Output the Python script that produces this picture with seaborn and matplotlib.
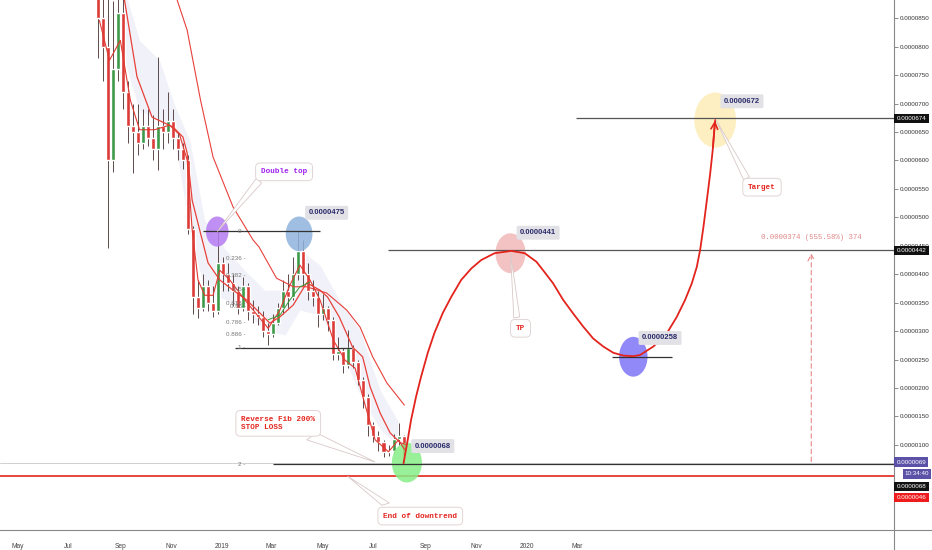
import matplotlib
matplotlib.use("Agg")
import matplotlib.pyplot as plt
import matplotlib.dates as mdates
import matplotlib.transforms as mtransforms
from matplotlib.patches import Ellipse, Polygon
import pandas as pd
import seaborn as sns

# all prices in units of 0.0000001 (475 -> 0.0000475)
candle_first = "2018-08-05"
candle_step = "6D"
first_open = 900
closes = [850, 800, 600, 760, 860, 720, 660, 650, 630, 660, 640, 620, 660, 650, 670, 640,
          620, 600, 480, 360, 340, 380, 350, 335, 420, 400, 385, 370, 340, 380, 335, 330,
          325, 300, 295, 315, 340, 370, 360, 400, 440, 400, 370, 360, 330, 340, 320, 260,
          265, 240, 270, 245, 215, 185, 135, 115, 105, 88, 90, 110, 115, 80]
highs = [950, 920, 900, 880, 960, 900, 740, 700, 700, 690, 690, 680, 782, 690, 720, 690,
         650, 630, 610, 485, 390, 400, 390, 380, 481, 430, 420, 400, 380, 395, 385, 355,
         345, 335, 315, 330, 350, 390, 400, 430, 476, 460, 420, 390, 370, 365, 345, 325,
         290, 270, 302, 275, 250, 220, 190, 140, 125, 108, 100, 120, 138, 118]
lows = [780, 740, 446, 580, 740, 690, 630, 578, 610, 620, 625, 600, 583, 620, 630, 620,
        600, 585, 470, 330, 323, 335, 335, 325, 330, 370, 370, 345, 330, 335, 320, 315,
        310, 290, 276, 290, 310, 330, 340, 355, 390, 380, 355, 345, 307, 320, 300, 250,
        250, 226, 235, 235, 205, 165, 115, 105, 90, 78, 80, 85, 100, 68]

ma_long_dates = ["2018-11-02", "2018-11-08", "2018-11-20", "2018-12-06", "2018-12-21", "2019-01-14",
                 "2019-02-07", "2019-02-14", "2019-03-07", "2019-03-27", "2019-04-12", "2019-05-06",
                 "2019-05-30", "2019-06-15", "2019-06-30", "2019-07-17", "2019-08-07"]
ma_long = [930, 882, 829, 706, 606, 518, 460, 448, 393, 378, 378, 367, 337, 307, 255, 209, 170]

ma_mid_dates = ["2018-09-06", "2018-09-21", "2018-10-09", "2018-11-03", "2018-11-15", "2018-11-20",
                "2018-11-26", "2018-12-06", "2018-12-15", "2018-12-29", "2019-01-14", "2019-01-30",
                "2019-02-15", "2019-02-27", "2019-03-11", "2019-03-27", "2019-04-12", "2019-04-28",
                "2019-05-07", "2019-05-21", "2019-06-06", "2019-06-18", "2019-06-27", "2019-07-09",
                "2019-07-21", "2019-08-02", "2019-08-08"]
ma_mid = [882, 747, 676, 659, 641, 613, 530, 472, 420, 390, 372, 355, 332, 314, 325, 346, 385,
          372, 360, 325, 272, 255, 202, 156, 121, 104, 101]

ma_fast_dates = ["2018-08-07", "2018-08-19", "2018-09-01", "2018-09-13", "2018-09-24", "2018-10-12",
                 "2018-10-30", "2018-11-11", "2018-11-20", "2018-11-26", "2018-12-03", "2018-12-11",
                 "2018-12-21", "2018-12-29", "2019-01-10", "2019-01-28", "2019-02-12", "2019-02-25",
                 "2019-03-11", "2019-03-23", "2019-04-04", "2019-04-16", "2019-04-28", "2019-05-14",
                 "2019-05-28", "2019-06-09", "2019-06-21", "2019-07-03", "2019-07-19", "2019-07-31",
                 "2019-08-07"]
ma_fast = [846, 776, 811, 706, 654, 654, 662, 645, 601, 478, 390, 363, 363, 407, 390, 355, 328,
           305, 337, 381, 416, 390, 355, 284, 249, 235, 170, 109, 88, 109, 92]

ma_green_dates = ["2019-02-25", "2019-03-11", "2019-03-23", "2019-04-04", "2019-04-16"]
ma_green = [320, 328, 355, 378, 386]

cloud_dates = ["2018-09-06", "2018-09-24", "2018-10-18", "2018-11-05", "2018-11-23", "2018-12-11",
               "2019-01-05", "2019-01-28", "2019-02-21", "2019-03-17", "2019-04-04", "2019-04-28",
               "2019-05-21", "2019-06-15", "2019-07-09", "2019-07-30"]
cloud_top = [900, 811, 776, 697, 636, 495, 443, 407, 372, 372, 443, 416, 355, 302, 196, 143]
cloud_bot = [776, 688, 671, 636, 477, 372, 355, 337, 302, 293, 337, 328, 276, 188, 127, 99]

proj_dates = ["2019-08-06", "2019-08-11", "2019-08-15", "2019-08-21", "2019-08-27", "2019-09-04",
              "2019-09-12", "2019-09-22", "2019-10-02", "2019-10-14", "2019-10-26", "2019-11-07",
              "2019-11-23", "2019-12-13", "2019-12-29", "2020-01-12", "2020-01-20", "2020-02-01",
              "2020-02-13", "2020-02-25", "2020-03-08", "2020-03-20", "2020-04-01", "2020-04-13",
              "2020-04-25", "2020-05-07", "2020-05-15", "2020-05-31", "2020-06-16", "2020-06-28",
              "2020-07-08", "2020-07-16", "2020-07-22", "2020-07-26", "2020-07-30", "2020-08-03",
              "2020-08-07", "2020-08-10", "2020-08-13"]
proj_values = [68, 109, 144, 185, 220, 262, 297, 332, 360, 390, 410, 425, 437, 441, 437, 422,
               407, 384, 355, 331, 308, 287, 273, 262, 257, 256, 258, 273, 296, 325, 355, 384,
               413, 443, 484, 530, 577, 618, 671]

month_ticks = ["2018-05-01", "2018-07-01", "2018-09-01", "2018-11-01", "2019-01-01", "2019-03-01",
               "2019-05-01", "2019-07-01", "2019-09-01", "2019-11-01", "2020-01-01", "2020-03-01"]
month_labels = ["May", "Jul", "Sep", "Nov", "2019", "Mar", "May", "Jul", "Sep", "Nov", "2020", "Mar"]
price_ticks = list(range(100, 851, 50))

fib_levels = [0, 0.236, 0.382, 0.5, 0.618, 0.65, 0.786, 0.886, 1, 2]
fib_top, fib_bottom = 476, 271


def d(s):
    return mdates.date2num(pd.Timestamp(s))


sns.set_theme(style="white")
plt.rcParams['font.family'] = ['Liberation Sans', 'DejaVu Sans']
MONO = ['Liberation Mono', 'DejaVu Sans Mono']
RED = '#e3241d'

fig = plt.figure(figsize=(9.32, 5.5), dpi=100)
ax = fig.add_axes([0, 20 / 550, 894 / 932, 530 / 550])

# cloud
ax.fill_between(pd.to_datetime(cloud_dates), cloud_bot, cloud_top, color='#e2e3f2',
                alpha=0.45, lw=0, zorder=1)

# candles
dates = pd.date_range(candle_first, periods=len(closes), freq=candle_step)
opens = [first_open] + closes[:-1]
colors = ['#3c9a48' if c >= o else '#db3a36' for o, c in zip(opens, closes)]
ax.vlines(dates, lows, highs, color='#5d4a4a', lw=0.7, zorder=3)
ax.bar(dates, [c - o for o, c in zip(opens, closes)], bottom=opens, width=4.8,
       color=colors, zorder=4)

# moving averages
sns.lineplot(x=pd.to_datetime(ma_long_dates), y=ma_long, ax=ax, color='#e8403a', lw=0.8, zorder=5)
sns.lineplot(x=pd.to_datetime(ma_mid_dates), y=ma_mid, ax=ax, color='#e8403a', lw=0.9, zorder=5)
sns.lineplot(x=pd.to_datetime(ma_fast_dates), y=ma_fast, ax=ax, color='#e03a32', lw=0.8, zorder=5)
sns.lineplot(x=pd.to_datetime(ma_green_dates), y=ma_green, ax=ax, color='#3a9a3a', lw=0.7, zorder=5)

# horizontal levels
ax.axhline(69, color='#c9c9c9', lw=0.6, zorder=2)
ax.axhline(45, color=RED, lw=1.2, zorder=2)
ax.hlines(fib_top, d("2018-12-09"), d("2019-04-28"), color='#333333', lw=0.9, zorder=6)
ax.hlines(fib_bottom, d("2019-01-16"), d("2019-06-05"), color='#333333', lw=0.9, zorder=6)
ax.hlines(66, d("2019-03-03"), d("2021-04-01"), color='#333333', lw=0.9, zorder=6)
ax.hlines(442, d("2019-07-18"), d("2021-04-01"), color='#555555', lw=0.9, zorder=6)
ax.hlines(674, d("2020-02-28"), d("2021-04-01"), color='#555555', lw=0.9, zorder=6)
ax.hlines(255, d("2020-04-12"), d("2020-06-22"), color='#333333', lw=0.9, zorder=6)

for lvl in fib_levels:
    val = fib_top - lvl * (fib_top - fib_bottom)
    ax.text(d("2019-01-29"), val, f"{lvl:g} -", ha='right', va='center', fontsize=4.5,
            color='#777777', zorder=7)

# ellipses
for cx, cy, w, h, col in [("2018-12-26", 475, 27, 53, '#b57cf2'),
                          ("2019-04-03", 471, 32, 61, '#8fb3dd'),
                          ("2019-12-12", 437, 36, 70, '#f2b9b9'),
                          ("2020-05-07", 255, 34, 70, '#7d74f6'),
                          ("2020-08-13", 671, 50, 97, '#fdedb8'),
                          ("2019-08-10", 69, 36, 70, '#86ee86')]:
    ax.add_patch(Ellipse((d(cx), cy), w, h, fc=col, ec='none', alpha=0.85, zorder=4.5))

# projected path
sns.lineplot(x=pd.to_datetime(proj_dates), y=proj_values, ax=ax, color=RED, lw=1.3, zorder=8)
ax.annotate("", xy=(d(proj_dates[-1]), proj_values[-1] + 4),
            xytext=(d(proj_dates[-2]), proj_values[-2]),
            arrowprops=dict(arrowstyle="->", color=RED, lw=1.2), zorder=8)

# callouts
box = dict(boxstyle="round,pad=0.7,rounding_size=0.6", fc='white', ec='#e2d4d4', lw=0.7)
for tip, a, b in [(("2018-12-26", 475), ("2019-02-11", 569), ("2019-02-17", 560)),
                  (("2019-07-03", 70), ("2019-04-24", 121), ("2019-04-12", 109)),
                  (("2019-05-31", 45), ("2019-07-11", -6), ("2019-07-20", -2)),
                  (("2019-12-12", 437), ("2019-12-16", 323), ("2019-12-23", 325)),
                  (("2020-08-14", 671), ("2020-09-16", 566), ("2020-09-23", 571))]:
    ax.add_patch(Polygon([(d(tip[0]), tip[1]), (d(a[0]), a[1]), (d(b[0]), b[1])],
                         closed=True, fc='white', ec='#d9c8c8', lw=0.6, zorder=9))

ax.text(d("2019-03-16"), 580, "Double top", family=MONO, weight='bold', fontsize=5.5,
        color='#a020f0', ha='center', va='center', bbox=box, zorder=10)
ax.text(d("2019-03-09"), 138, "Reverse Fib 200%\nSTOP LOSS", family=MONO, weight='bold',
        fontsize=5.5, color=RED, ha='center', va='center', linespacing=1.2,
        bbox=box, zorder=10, multialignment='left')
ax.text(d("2019-08-26"), -25, "End of downtrend", family=MONO, weight='bold', fontsize=5.5,
        color=RED, ha='center', va='center', bbox=box, zorder=10)
ax.text(d("2019-12-24"), 305, "TP", family=MONO, weight='bold', fontsize=5.5,
        color=RED, ha='center', va='center', bbox=box, zorder=10)
ax.text(d("2020-10-08"), 553, "Target", family=MONO, weight='bold', fontsize=5.5,
        color=RED, ha='center', va='center', bbox=box, zorder=10)

# price labels
pbox = dict(boxstyle="round,pad=0.45,rounding_size=0.2", fc='#e1e1e6', ec='none')
for lx, ly, txt in [("2019-05-06", 508, "0.0000475"), ("2020-01-14", 473, "0.0000441"),
                    ("2020-06-08", 288, "0.0000258"), ("2020-09-14", 704, "0.0000672"),
                    ("2019-09-10", 98, "0.0000068")]:
    ax.text(d(lx), ly, txt, fontsize=5.5, weight='bold', color='#2b2b6b', ha='center',
            va='center', bbox=pbox, zorder=10)

# measure arrow
ax.annotate("", xy=(d("2020-12-06"), 442), xytext=(d("2020-12-06"), 66),
            arrowprops=dict(arrowstyle="->", color='#e88a8a', lw=0.8, linestyle=(0, (4, 3))),
            zorder=7)
ax.text(d("2020-12-06"), 464, "0.0000374 (555.58%) 374", family=MONO, fontsize=5.3,
        color='#e08a8a', ha='center', va='center', zorder=7)

# axes
ax.set_xlim(pd.Timestamp("2018-04-10"), pd.Timestamp("2021-03-15"))
ax.set_ylim(-49.5, 882)
ax.yaxis.tick_right()
ax.set_yticks(price_ticks)
ax.set_yticklabels([f"{v * 1e-7:.7f}" for v in price_ticks])
ax.set_xticks(pd.to_datetime(month_ticks))
ax.set_xticklabels(month_labels)
ax.tick_params(axis='y', right=True, length=3, width=0.6, color='#777777', labelsize=4.5,
               labelcolor='#333333', pad=1.5)
ax.tick_params(axis='x', length=0, labelsize=4.8, labelcolor='#444444', pad=9)
ax.set_xlabel("")
ax.set_ylabel("")
for s in ['top', 'left']:
    ax.spines[s].set_visible(False)
for s in ['right', 'bottom']:
    ax.spines[s].set_color('#888888')
    ax.spines[s].set_linewidth(0.8)
fig.add_artist(plt.Line2D([894 / 932, 1], [20 / 550, 20 / 550], color='#888888', lw=0.8,
                          transform=fig.transFigure))
fig.add_artist(plt.Line2D([894 / 932, 894 / 932], [0, 20 / 550], color='#888888', lw=0.8,
                          transform=fig.transFigure))

# right-axis badges
trans = mtransforms.blended_transform_factory(ax.transAxes, ax.transData)
for yv, txt, col, xo in [(674, "0.0000674", '#111111', 1.003), (442, "0.0000442", '#111111', 1.003),
                         (70, "0.0000069", '#5b52a8', 1.003), (49, "10:34:40", '#5b52a8', 1.012),
                         (27, "0.0000068", '#111111', 1.003), (8, "0.0000046", '#ee1c1c', 1.003)]:
    ax.text(xo, yv, txt, transform=trans, fontsize=4.5, color='white', ha='left', va='center',
            bbox=dict(boxstyle='square,pad=0.35', fc=col, ec='none'), clip_on=False, zorder=11)

fig.savefig("out.png", dpi=100, facecolor='white')
